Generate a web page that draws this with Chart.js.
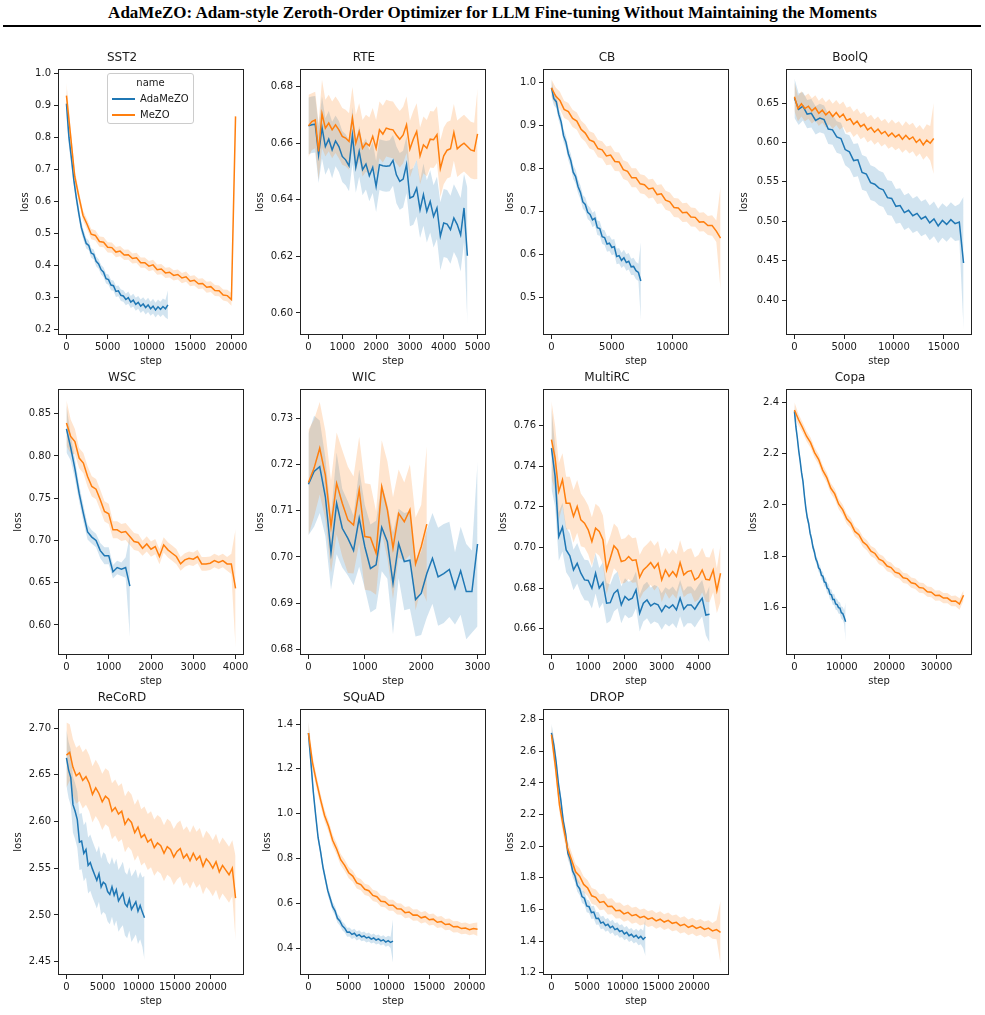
<!DOCTYPE html>
<html><head><meta charset="utf-8">
<script src="https://cdn.jsdelivr.net/npm/chart.js@4.4.0/dist/chart.umd.min.js"></script>
<style>
html,body{margin:0;padding:0;background:#fff;}
#page{position:relative;width:985px;height:1015px;overflow:hidden;background:#fff;}
#title{position:absolute;left:0;top:3px;width:985px;text-align:center;font:bold 17px "Liberation Serif","Times New Roman",serif;line-height:20px;color:#000;white-space:nowrap;}
#rule{position:absolute;left:3px;top:25px;width:978px;height:2px;background:#000;}
canvas{position:absolute;}
#legend{position:absolute;left:107px;top:73px;width:87px;height:51px;border:1px solid #cccccc;border-radius:3px;background:rgba(255,255,255,0.8);font:10px "DejaVu Sans",sans-serif;color:#1a1a1a;box-sizing:border-box;z-index:5;}
#legend .lt{position:absolute;left:0;width:100%;text-align:center;top:2px;line-height:14px;}
#legend .sw{position:absolute;left:4px;width:23px;height:1.5px;}
#legend .lb{position:absolute;left:32px;line-height:14px;}
</style></head>
<body><div id="page">
<div id="title">AdaMeZO: Adam-style Zeroth-Order Optimizer for LLM Fine-tuning Without Maintaining the Moments</div>
<div id="rule"></div>
</div>
<script>
// ---------- names ----------
const taskNames = ['SST2','RTE','CB','BoolQ','WSC','WIC','MultiRC','Copa','ReCoRD','SQuAD','DROP'];
const seriesNames = ['AdaMeZO','MeZO'];
const legendTitle = 'name';
const xAxisTitle = 'step';
const yAxisTitle = 'loss';

// ---------- SST2 ----------
const sst2AdaEvery = 300;
const sst2AdaLoss = [0.905,0.80,0.735,0.665,0.61,0.562,0.518,0.492,0.468,0.462,
 0.438,0.434,0.412,0.404,0.386,0.378,0.358,0.355,0.338,0.336,
 0.318,0.32,0.306,0.304,0.293,0.299,0.285,0.291,0.278,0.284,
 0.272,0.279,0.268,0.276,0.264,0.272,0.26,0.27,0.262,0.271,
 0.264,0.276];
const sst2AdaCI = [0.045,0.03,0.025,0.02,0.02,0.018,0.017,0.016,0.016,0.015,
 0.015,0.015,0.015,0.015,0.015,0.015,0.015,0.016,0.016,0.016,
 0.017,0.017,0.018,0.018,0.018,0.019,0.019,0.02,0.02,0.02,
 0.021,0.021,0.022,0.022,0.022,0.023,0.023,0.023,0.024,0.025,
 0.027,0.045];
const sst2MezoEvery = 500;
const sst2MezoLoss = [0.93,0.805,0.678,0.615,0.556,0.528,0.497,0.493,0.474,0.472,
 0.456,0.455,0.441,0.444,0.432,0.433,0.421,0.423,0.408,0.408,
 0.397,0.401,0.386,0.388,0.376,0.378,0.368,0.371,0.36,0.364,
 0.35,0.353,0.342,0.343,0.331,0.333,0.321,0.32,0.307,0.305,
 0.293,0.865];
const sst2MezoCI = [0.04,0.025,0.02,0.017,0.016,0.016,0.016,0.016,0.016,0.016,
 0.016,0.016,0.016,0.016,0.016,0.016,0.016,0.016,0.016,0.016,
 0.016,0.016,0.016,0.016,0.016,0.016,0.016,0.016,0.016,0.016,
 0.016,0.016,0.016,0.016,0.017,0.017,0.017,0.017,0.017,0.018,
 0.02,0];
const sst2XTicks = [0,5000,10000,15000,20000];
const sst2YTicks = ['0.2','0.3','0.4','0.5','0.6','0.7','0.8','0.9','1.0'];

// ---------- RTE ----------
const rteAdaEvery = 100;
const rteAdaLoss = [0.6661,0.6665,0.6667,0.6559,0.6656,0.6588,0.6614,0.6576,0.6608,0.6588,
 0.6553,0.6541,0.652,0.6627,0.6515,0.6571,0.6506,0.6526,0.6485,0.6514,
 0.6447,0.6524,0.652,0.6518,0.652,0.6539,0.6488,0.6465,0.6473,0.6524,
 0.6406,0.6412,0.6441,0.6365,0.6418,0.6359,0.6394,0.6341,0.6371,0.6271,
 0.6318,0.6314,0.6294,0.6335,0.6312,0.6276,0.6371,0.6202];
const rteAdaCI = [0.01,0.01,0.01,0.01,0.011,0.01,0.01,0.01,0.009,0.009,
 0.009,0.009,0.009,0.01,0.009,0.009,0.009,0.009,0.009,0.009,
 0.009,0.009,0.009,0.009,0.009,0.009,0.01,0.01,0.01,0.01,
 0.01,0.01,0.01,0.01,0.011,0.011,0.011,0.011,0.011,0.012,
 0.012,0.012,0.012,0.012,0.012,0.013,0.012,0.024];
const rteMezoEvery = 100;
const rteMezoLoss = [0.6661,0.6676,0.6682,0.6571,0.6704,0.6653,0.6671,0.6647,0.6665,0.6647,
 0.6624,0.6618,0.6606,0.6688,0.66,0.6641,0.6582,0.66,0.6591,0.6624,
 0.6582,0.6647,0.6632,0.6653,0.6649,0.6647,0.6629,0.6614,0.6629,0.6665,
 0.6579,0.6614,0.6641,0.6555,0.6594,0.6582,0.6614,0.6612,0.663,0.651,
 0.6555,0.6575,0.658,0.6638,0.658,0.6591,0.66,0.6588,0.6576,0.6572,
 0.6633];
const rteMezoCI = [0.011,0.01,0.01,0.01,0.012,0.01,0.01,0.01,0.01,0.01,
 0.01,0.01,0.01,0.011,0.01,0.01,0.01,0.01,0.01,0.01,
 0.01,0.01,0.01,0.01,0.01,0.01,0.01,0.01,0.01,0.01,
 0.01,0.01,0.01,0.01,0.01,0.01,0.01,0.01,0.01,0.01,
 0.01,0.01,0.01,0.01,0.01,0.01,0.01,0.01,0.01,0.01,
 0.016];
const rteXTicks = [0,1000,2000,3000,4000,5000];
const rteYTicks = ['0.60','0.62','0.64','0.66','0.68'];

// ---------- CB ----------
const cbAdaEvery = 200;
const cbAdaLoss = [0.987,0.962,0.955,0.926,0.908,0.876,0.861,0.834,0.818,0.791,
 0.781,0.758,0.744,0.722,0.716,0.698,0.693,0.68,0.684,0.662,
 0.66,0.641,0.639,0.624,0.626,0.616,0.618,0.595,0.597,0.586,
 0.592,0.581,0.584,0.571,0.572,0.562,0.558,0.538];
const cbAdaCI = [0.02,0.015,0.015,0.015,0.015,0.015,0.015,0.015,0.016,0.016,
 0.016,0.016,0.016,0.016,0.016,0.016,0.016,0.017,0.017,0.017,
 0.017,0.017,0.017,0.018,0.018,0.018,0.018,0.018,0.018,0.018,
 0.019,0.019,0.019,0.019,0.02,0.02,0.02,0.09];
const cbMezoEvery = 350;
const cbMezoLoss = [0.987,0.968,0.958,0.937,0.932,0.916,0.91,0.891,0.882,0.866,
 0.862,0.846,0.843,0.829,0.831,0.816,0.815,0.797,0.793,0.778,
 0.778,0.764,0.762,0.752,0.754,0.739,0.741,0.726,0.722,0.709,
 0.708,0.697,0.698,0.687,0.686,0.675,0.676,0.667,0.667,0.654,
 0.638];
const cbMezoCI = [0.02,0.02,0.02,0.02,0.02,0.02,0.02,0.02,0.02,0.02,
 0.02,0.02,0.02,0.022,0.022,0.022,0.022,0.022,0.022,0.022,
 0.022,0.022,0.022,0.022,0.022,0.022,0.022,0.022,0.022,0.022,
 0.022,0.022,0.022,0.022,0.022,0.022,0.022,0.022,0.024,0.025,
 0.12];
const cbXTicks = [0,5000,10000];
const cbYTicks = ['0.5','0.6','0.7','0.8','0.9','1.0'];

// ---------- BoolQ ----------
const boolqAdaEvery = 425;
const boolqAdaLoss = [0.656,0.642,0.646,0.636,0.637,0.628,0.631,0.629,0.617,0.616,
 0.607,0.605,0.591,0.588,0.577,0.578,0.562,0.56,0.549,0.547,
 0.542,0.54,0.53,0.529,0.519,0.52,0.511,0.514,0.507,0.51,
 0.503,0.506,0.498,0.503,0.494,0.501,0.496,0.502,0.497,0.499,
 0.447];
const boolqAdaCI = [0.025,0.02,0.018,0.018,0.018,0.018,0.018,0.018,0.019,0.019,
 0.02,0.02,0.02,0.021,0.021,0.021,0.022,0.022,0.022,0.022,
 0.022,0.022,0.022,0.022,0.022,0.022,0.022,0.022,0.022,0.022,
 0.022,0.022,0.022,0.022,0.022,0.022,0.022,0.022,0.022,0.023,
 0.084];
const boolqMezoEvery = 350;
const boolqMezoLoss = [0.658,0.643,0.649,0.643,0.646,0.64,0.644,0.637,0.641,0.635,
 0.639,0.633,0.638,0.632,0.636,0.628,0.63,0.623,0.627,0.62,
 0.623,0.616,0.619,0.613,0.617,0.611,0.614,0.608,0.612,0.607,
 0.61,0.604,0.609,0.604,0.607,0.6,0.604,0.597,0.603,0.599,
 0.605];
const boolqMezoCI = [0.018,0.016,0.016,0.016,0.016,0.016,0.016,0.016,0.016,0.016,
 0.016,0.016,0.016,0.016,0.016,0.016,0.016,0.016,0.016,0.016,
 0.016,0.016,0.016,0.016,0.016,0.016,0.016,0.016,0.017,0.017,
 0.017,0.017,0.018,0.018,0.018,0.018,0.018,0.019,0.02,0.022,
 0.045];
const boolqXTicks = [0,5000,10000,15000];
const boolqYTicks = ['0.40','0.45','0.50','0.55','0.60','0.65'];

// ---------- WSC ----------
const wscAdaEvery = 100;
const wscAdaLoss = [0.832,0.81,0.785,0.756,0.732,0.71,0.704,0.70,0.688,0.682,
 0.682,0.663,0.668,0.666,0.668,0.646];
const wscAdaCI = [0.028,0.015,0.012,0.01,0.01,0.009,0.008,0.008,0.009,0.01,
 0.01,0.008,0.008,0.008,0.012,0.06];
const wscMezoEvery = 100;
const wscMezoLoss = [0.839,0.823,0.817,0.7975,0.7915,0.7757,0.7639,0.7607,0.7481,0.7343,
 0.7315,0.7126,0.7126,0.7094,0.7106,0.7047,0.6987,0.6976,0.6908,0.6959,
 0.6897,0.6928,0.681,0.6948,0.6889,0.6849,0.681,0.6723,0.677,0.679,
 0.6778,0.681,0.6723,0.6723,0.6731,0.6762,0.6739,0.6762,0.6723,0.6723,
 0.6434];
const wscMezoCI = [0.027,0.02,0.015,0.012,0.012,0.012,0.012,0.012,0.012,0.012,
 0.012,0.01,0.01,0.01,0.01,0.01,0.01,0.01,0.009,0.009,
 0.009,0.009,0.009,0.009,0.009,0.009,0.009,0.008,0.008,0.008,
 0.008,0.008,0.008,0.008,0.008,0.008,0.008,0.008,0.008,0.012,
 0.07];
const wscXTicks = [0,1000,2000,3000,4000];
const wscYTicks = ['0.60','0.65','0.70','0.75','0.80','0.85'];

// ---------- WIC ----------
const wicAdaEvery = 100;
const wicAdaLoss = [0.7157,0.7185,0.7195,0.713,0.7009,0.7116,0.7062,0.704,0.7014,0.7084,
 0.7022,0.6975,0.6983,0.7064,0.7033,0.6943,0.7029,0.699,0.6993,0.6908,
 0.6921,0.6964,0.6997,0.6957,0.6964,0.6973,0.6932,0.697,0.6925,0.6925,
 0.7028];
const wicAdaCI = [0.011,0.012,0.01,0.0085,0.008,0.011,0.0085,0.008,0.0075,0.0105,
 0.009,0.0095,0.0095,0.0095,0.008,0.011,0.0075,0.0105,0.0105,0.008,
 0.009,0.0095,0.0098,0.0106,0.0107,0.0103,0.0078,0.0095,0.0103,0.0089,
 0.0178];
const wicMezoEvery = 100;
const wicMezoLoss = [0.7161,0.7192,0.7235,0.7177,0.7066,0.7159,0.7116,0.708,0.7069,0.7145,
 0.7044,0.7042,0.7008,0.7152,0.7102,0.7019,0.7094,0.7076,0.7102,0.6985,
 0.7022,0.7071];
const wicMezoCI = [0.0114,0.0105,0.01,0.0095,0.01,0.011,0.0115,0.0115,0.0105,0.0115,
 0.0115,0.0115,0.009,0.01,0.0105,0.011,0.0095,0.0085,0.0098,0.01,
 0.009,0.0168];
const wicXTicks = [0,1000,2000,3000];
const wicYTicks = ['0.68','0.69','0.70','0.71','0.72','0.73'];

// ---------- MultiRC ----------
const multircAdaEvery = 100;
const multircAdaLoss = [0.749,0.735,0.7054,0.71,0.6988,0.6959,0.6889,0.6922,0.6873,0.684,
 0.6837,0.6799,0.6873,0.6799,0.6827,0.6725,0.6728,0.6774,0.6791,0.6717,
 0.6758,0.6741,0.675,0.6791,0.6676,0.6725,0.6741,0.6712,0.6725,0.6717,
 0.6684,0.6714,0.6701,0.6717,0.6692,0.675,0.6696,0.6717,0.6717,0.6696,
 0.6725,0.675,0.6667,0.6671];
const multircAdaCI = [0.02,0.015,0.012,0.012,0.011,0.011,0.01,0.01,0.01,0.01,
 0.01,0.01,0.01,0.01,0.01,0.01,0.009,0.009,0.009,0.009,
 0.009,0.009,0.009,0.009,0.009,0.009,0.009,0.009,0.009,0.009,
 0.009,0.009,0.009,0.009,0.009,0.009,0.009,0.009,0.009,0.009,
 0.009,0.009,0.01,0.014];
const multircMezoEvery = 100;
const multircMezoLoss = [0.7531,0.744,0.7276,0.7334,0.7218,0.7218,0.7153,0.7202,0.7136,0.712,
 0.7087,0.7029,0.7095,0.7079,0.7038,0.6889,0.6947,0.7008,0.6988,0.6931,
 0.6936,0.6955,0.6936,0.6939,0.6853,0.6889,0.6906,0.6926,0.6898,0.6922,
 0.684,0.6889,0.6857,0.6881,0.6857,0.6926,0.6865,0.6881,0.6886,0.684,
 0.6853,0.6889,0.6843,0.684,0.6889,0.6787,0.6873];
const multircMezoCI = [0.019,0.016,0.014,0.013,0.013,0.013,0.013,0.013,0.013,0.012,
 0.012,0.012,0.012,0.012,0.012,0.012,0.011,0.011,0.011,0.011,
 0.011,0.011,0.011,0.011,0.011,0.011,0.011,0.011,0.011,0.011,
 0.011,0.011,0.011,0.011,0.011,0.011,0.011,0.011,0.011,0.011,
 0.011,0.011,0.011,0.011,0.011,0.011,0.014];
const multircXTicks = [0,1000,2000,3000,4000];
const multircYTicks = ['0.66','0.68','0.70','0.72','0.74','0.76'];

// ---------- Copa ----------
const copaAdaEvery = 300;
const copaAdaLoss = [2.365,2.305,2.262,2.212,2.172,2.126,2.092,2.036,1.988,1.951,
 1.928,1.89,1.868,1.836,1.818,1.79,1.778,1.755,1.748,1.726,
 1.722,1.70,1.698,1.676,1.672,1.652,1.65,1.632,1.632,1.614,
 1.612,1.60,1.598,1.58,1.577,1.562,1.545];
const copaAdaCI = [0.03,0.02,0.015,0.015,0.015,0.015,0.015,0.015,0.015,0.015,
 0.015,0.015,0.015,0.015,0.015,0.015,0.016,0.016,0.017,0.017,
 0.018,0.018,0.019,0.02,0.02,0.02,0.021,0.021,0.022,0.022,
 0.022,0.023,0.023,0.024,0.025,0.027,0.075];
const copaMezoEvery = 850;
const copaMezoLoss = [2.37,2.333,2.302,2.268,2.243,2.204,2.178,2.136,2.108,2.066,
 2.043,2.003,1.981,1.946,1.929,1.897,1.884,1.856,1.843,1.82,
 1.811,1.789,1.781,1.762,1.756,1.738,1.733,1.716,1.713,1.697,
 1.693,1.678,1.676,1.662,1.66,1.647,1.648,1.637,1.637,1.625,
 1.626,1.614,1.648];
const copaMezoCI = [0.03,0.022,0.02,0.02,0.02,0.02,0.02,0.02,0.02,0.02,
 0.02,0.02,0.02,0.02,0.02,0.02,0.02,0.02,0.02,0.02,
 0.02,0.02,0.02,0.02,0.02,0.02,0.02,0.02,0.02,0.02,
 0.02,0.02,0.02,0.02,0.02,0.02,0.02,0.02,0.02,0.02,
 0.021,0.022,0.02];
const copaXTicks = [0,10000,20000,30000];
const copaYTicks = ['1.6','1.8','2.0','2.2','2.4'];

// ---------- ReCoRD ----------
const recordAdaEvery = 300;
const recordAdaLoss = [2.668,2.655,2.647,2.618,2.611,2.602,2.578,2.579,2.566,2.57,
 2.553,2.556,2.549,2.543,2.537,2.544,2.53,2.535,2.533,2.525,
 2.522,2.53,2.521,2.527,2.515,2.519,2.523,2.512,2.509,2.517,
 2.506,2.51,2.514,2.504,2.51,2.503,2.497];
const recordAdaCI = [0.03,0.03,0.03,0.03,0.03,0.03,0.03,0.03,0.03,0.03,
 0.03,0.03,0.03,0.03,0.03,0.03,0.03,0.032,0.032,0.032,
 0.032,0.032,0.033,0.033,0.033,0.033,0.034,0.034,0.034,0.034,
 0.035,0.035,0.035,0.035,0.036,0.037,0.045];
const recordMezoEvery = 450;
const recordMezoLoss = [2.671,2.674,2.658,2.649,2.652,2.644,2.648,2.641,2.629,2.636,
 2.63,2.621,2.627,2.624,2.611,2.615,2.608,2.611,2.597,2.603,
 2.599,2.588,2.594,2.583,2.586,2.578,2.581,2.572,2.577,2.574,
 2.566,2.573,2.57,2.562,2.568,2.571,2.561,2.565,2.558,2.566,
 2.559,2.563,2.552,2.56,2.556,2.55,2.557,2.546,2.553,2.548,
 2.543,2.55,2.518];
const recordMezoCI = [0.035,0.03,0.03,0.03,0.03,0.03,0.03,0.03,0.03,0.03,
 0.03,0.03,0.03,0.03,0.03,0.03,0.03,0.03,0.03,0.03,
 0.03,0.03,0.03,0.03,0.03,0.03,0.03,0.03,0.03,0.03,
 0.03,0.03,0.03,0.03,0.03,0.03,0.03,0.03,0.03,0.03,
 0.03,0.03,0.03,0.03,0.03,0.03,0.03,0.03,0.03,0.03,
 0.03,0.03,0.045];
const recordXTicks = [0,5000,10000,15000,20000];
const recordYTicks = ['2.45','2.50','2.55','2.60','2.65','2.70'];

// ---------- SQuAD ----------
const squadAdaEvery = 300;
const squadAdaLoss = [1.36,1.232,1.098,0.992,0.893,0.832,0.762,0.71,0.657,0.622,
 0.586,0.567,0.534,0.522,0.50,0.49,0.472,0.473,0.462,0.467,
 0.455,0.461,0.451,0.455,0.446,0.45,0.441,0.446,0.437,0.442,
 0.433,0.438,0.428,0.434,0.426,0.432];
const squadAdaCI = [0.05,0.03,0.025,0.022,0.02,0.02,0.02,0.02,0.02,0.02,
 0.02,0.02,0.02,0.02,0.02,0.02,0.02,0.02,0.02,0.02,
 0.02,0.02,0.02,0.02,0.02,0.02,0.02,0.02,0.02,0.02,
 0.02,0.02,0.021,0.022,0.025,0.095];
const squadMezoEvery = 500;
const squadMezoLoss = [1.36,1.228,1.142,1.063,0.992,0.944,0.882,0.843,0.795,0.77,
 0.737,0.722,0.692,0.684,0.663,0.657,0.636,0.63,0.61,0.608,
 0.592,0.592,0.576,0.575,0.559,0.562,0.548,0.549,0.536,0.541,
 0.527,0.53,0.516,0.519,0.506,0.508,0.496,0.497,0.488,0.49,
 0.483,0.488,0.485];
const squadMezoCI = [0.05,0.03,0.028,0.027,0.026,0.025,0.025,0.025,0.025,0.025,
 0.025,0.025,0.025,0.025,0.025,0.025,0.025,0.025,0.025,0.025,
 0.025,0.025,0.025,0.025,0.025,0.025,0.025,0.025,0.025,0.025,
 0.025,0.025,0.025,0.025,0.025,0.025,0.025,0.025,0.025,0.025,
 0.025,0.025,0.03];
const squadXTicks = [0,5000,10000,15000,20000];
const squadYTicks = ['0.4','0.6','0.8','1.0','1.2','1.4'];

// ---------- DROP ----------
const dropAdaEvery = 330;
const dropAdaLoss = [2.716,2.64,2.53,2.39,2.29,2.16,2.08,1.955,1.915,1.843,
 1.812,1.752,1.731,1.681,1.671,1.622,1.617,1.58,1.583,1.543,
 1.544,1.514,1.52,1.498,1.506,1.484,1.494,1.472,1.479,1.46,
 1.466,1.445,1.455,1.434,1.443,1.425,1.436,1.418,1.43,1.41,
 1.425];
const dropAdaCI = [0.06,0.05,0.045,0.04,0.04,0.04,0.04,0.04,0.04,0.04,
 0.04,0.04,0.04,0.04,0.04,0.04,0.04,0.04,0.04,0.04,
 0.04,0.04,0.04,0.04,0.04,0.04,0.04,0.04,0.04,0.04,
 0.04,0.04,0.04,0.04,0.04,0.04,0.042,0.045,0.05,0.055,
 0.12];
const dropMezoEvery = 565;
const dropMezoLoss = [2.705,2.50,2.26,2.115,1.985,1.912,1.838,1.81,1.758,1.735,
 1.686,1.676,1.644,1.65,1.618,1.62,1.592,1.594,1.572,1.581,
 1.56,1.567,1.548,1.556,1.538,1.547,1.527,1.538,1.52,1.531,
 1.512,1.518,1.497,1.506,1.486,1.497,1.48,1.49,1.473,1.482,
 1.464,1.472,1.455];
const dropMezoCI = [0.06,0.05,0.05,0.05,0.05,0.05,0.05,0.05,0.05,0.05,
 0.05,0.05,0.05,0.05,0.05,0.05,0.05,0.05,0.05,0.05,
 0.05,0.05,0.05,0.05,0.05,0.05,0.05,0.05,0.05,0.05,
 0.05,0.05,0.05,0.05,0.05,0.05,0.05,0.05,0.05,0.05,
 0.05,0.06,0.2];
const dropXTicks = [0,5000,10000,15000,20000];
const dropYTicks = ['1.2','1.4','1.6','1.8','2.0','2.2','2.4','2.6','2.8'];

// ---------- layout & style ----------
const COLORS = ['#1f77b4', '#ff7f0e'];
const BANDS = ['rgba(31,119,180,0.2)', 'rgba(255,127,14,0.2)'];
const TEXT = '#1a1a1a';
const TICK = '#222';
const COL_LEFT = [58, 300, 543, 786];
const ROW_TOP = [69, 389, 709];
const PLOT_W = 186, PLOT_H = 266;
const AXIS_W = 58, TITLE_H = 29, XAXIS_H = 36, PAD_R = 22;
const CANVAS_W = AXIS_W + PLOT_W + PAD_R, CANVAS_H = TITLE_H + PLOT_H + XAXIS_H;
Chart.defaults.font.family = "'DejaVu Sans', sans-serif";
Chart.defaults.color = TEXT;

const panels = [
 {ada:[sst2AdaEvery,sst2AdaLoss,sst2AdaCI], mezo:[sst2MezoEvery,sst2MezoLoss,sst2MezoCI], xr:[-1025,21525], yr:[0.182,1.013], xt:sst2XTicks, yt:sst2YTicks, yd:33},
 {ada:[rteAdaEvery,rteAdaLoss,rteAdaCI], mezo:[rteMezoEvery,rteMezoLoss,rteMezoCI], xr:[-250,5250], yr:[0.5922,0.6862], xt:rteXTicks, yt:rteYTicks, yd:40},
 {ada:[cbAdaEvery,cbAdaLoss,cbAdaCI], mezo:[cbMezoEvery,cbMezoLoss,cbMezoCI], xr:[-700,14700], yr:[0.4125,1.031], xt:cbXTicks, yt:cbYTicks, yd:33},
 {ada:[boolqAdaEvery,boolqAdaLoss,boolqAdaCI], mezo:[boolqMezoEvery,boolqMezoLoss,boolqMezoCI], xr:[-850,17850], yr:[0.3557,0.6932], xt:boolqXTicks, yt:boolqYTicks, yd:42},
 {ada:[wscAdaEvery,wscAdaLoss,wscAdaCI], mezo:[wscMezoEvery,wscMezoLoss,wscMezoCI], xr:[-200,4200], yr:[0.5645,0.8792], xt:wscXTicks, yt:wscYTicks, yd:40},
 {ada:[wicAdaEvery,wicAdaLoss,wicAdaCI], mezo:[wicMezoEvery,wicMezoLoss,wicMezoCI], xr:[-150,3150], yr:[0.6788,0.7363], xt:wicXTicks, yt:wicYTicks, yd:40},
 {ada:[multircAdaEvery,multircAdaLoss,multircAdaCI], mezo:[multircMezoEvery,multircMezoLoss,multircMezoCI], xr:[-230,4830], yr:[0.647,0.7781], xt:multircXTicks, yt:multircYTicks, yd:40},
 {ada:[copaAdaEvery,copaAdaLoss,copaAdaCI], mezo:[copaMezoEvery,copaMezoLoss,copaMezoCI], xr:[-1785,37485], yr:[1.4153,2.452], xt:copaXTicks, yt:copaYTicks, yd:33},
 {ada:[recordAdaEvery,recordAdaLoss,recordAdaCI], mezo:[recordMezoEvery,recordMezoLoss,recordMezoCI], xr:[-1170,24570], yr:[2.4357,2.7204], xt:recordXTicks, yt:recordYTicks, yd:40},
 {ada:[squadAdaEvery,squadAdaLoss,squadAdaCI], mezo:[squadMezoEvery,squadMezoLoss,squadMezoCI], xr:[-1050,22050], yr:[0.281,1.467], xt:squadXTicks, yt:squadYTicks, yd:33},
 {ada:[dropAdaEvery,dropAdaLoss,dropAdaCI], mezo:[dropMezoEvery,dropMezoLoss,dropMezoCI], xr:[-1186,24916], yr:[1.1852,2.8675], xt:dropXTicks, yt:dropYTicks, yd:33}
];

const framePlugin = {
  id: 'frame',
  afterDraw(chart) {
    const a = chart.chartArea, ctx = chart.ctx;
    ctx.save();
    ctx.strokeStyle = '#222';
    ctx.lineWidth = 1;
    const l = Math.round(a.left) + 0.5, t = Math.round(a.top) + 0.5;
    const r = Math.round(a.right) - 0.5, b = Math.round(a.bottom) - 0.5;
    ctx.strokeRect(l, t, r - l, b - t);
    ctx.restore();
  }
};

function seriesSets(spec, k) {
  const [every, loss, ci] = spec;
  const lo = loss.map((v, i) => ({x: i * every, y: v - ci[i]}));
  const hi = loss.map((v, i) => ({x: i * every, y: v + ci[i]}));
  const mid = loss.map((v, i) => ({x: i * every, y: v}));
  const none = 'rgba(0,0,0,0)';
  return [
    {label: seriesNames[k] + ' lo', data: lo, borderColor: none, borderWidth: 0, pointRadius: 0, fill: false},
    {label: seriesNames[k] + ' hi', data: hi, borderColor: none, borderWidth: 0, pointRadius: 0, fill: '-1', backgroundColor: BANDS[k]},
    {label: seriesNames[k], data: mid, borderColor: COLORS[k], borderWidth: 1.5, pointRadius: 0, fill: false}
  ];
}

const page = document.getElementById('page');
panels.forEach((p, idx) => {
  const col = idx % 4, row = Math.floor(idx / 4);
  const cv = document.createElement('canvas');
  cv.width = CANVAS_W; cv.height = CANVAS_H;
  cv.style.width = CANVAS_W + 'px'; cv.style.height = CANVAS_H + 'px';
  cv.style.left = (COL_LEFT[col] - AXIS_W) + 'px';
  cv.style.top = (ROW_TOP[row] - TITLE_H) + 'px';
  page.appendChild(cv);
  const a = seriesSets(p.ada, 0), m = seriesSets(p.mezo, 1);
  a[0].order = 6; a[1].order = 5; m[0].order = 4; m[1].order = 3; a[2].order = 2; m[2].order = 1;
  const tickFont = {size: 10};
  new Chart(cv, {
    type: 'line',
    data: {datasets: [a[0], a[1], m[0], m[1], a[2], m[2]]},
    options: {
      responsive: false, animation: false, devicePixelRatio: 1, events: [],
      layout: {padding: {left: 0, top: 0, right: PAD_R, bottom: 0}},
      elements: {line: {tension: 0}, point: {radius: 0}},
      plugins: {
        legend: {display: false}, tooltip: {enabled: false},
        title: {display: true, text: taskNames[idx], color: TEXT, font: {size: 12, weight: 'normal'}, padding: {top: 10.8, bottom: 3.8}}
      },
      scales: {
        x: {
          type: 'linear', min: p.xr[0], max: p.xr[1],
          afterBuildTicks: s => { s.ticks = p.xt.map(v => ({value: v})); },
          afterFit: s => { s.height = XAXIS_H; },
          ticks: {callback: v => String(v), maxRotation: 0, minRotation: 0, autoSkip: false, padding: 2, color: TEXT, font: tickFont},
          grid: {display: true, drawOnChartArea: false, drawTicks: true, tickLength: 4, color: TICK, lineWidth: 1},
          border: {display: false},
          title: {display: true, text: xAxisTitle, color: TEXT, font: {size: 10}, padding: {top: 0, bottom: 3.3}}
        },
        y: {
          type: 'linear', min: p.yr[0], max: p.yr[1],
          afterBuildTicks: s => { s.ticks = p.yt.map(t => ({value: parseFloat(t)})); },
          afterFit: s => { s.width = AXIS_W; },
          ticks: {callback: (v, i) => p.yt[i], padding: 3, color: TEXT, font: tickFont},
          grid: {display: true, drawOnChartArea: false, drawTicks: true, tickLength: 4, color: TICK, lineWidth: 1},
          border: {display: false},
          title: {display: true, text: yAxisTitle, color: TEXT, font: {size: 10}, padding: {top: 52 - p.yd, bottom: 0}}
        }
      }
    },
    plugins: [framePlugin]
  });
});

// legend (inside SST2 panel)
const lg = document.createElement('div');
lg.id = 'legend';
let html = '<div class="lt">' + legendTitle + '</div>';
seriesNames.forEach((n, k) => {
  const cy = 25 + k * 16;
  html += '<div class="sw" style="top:' + (cy - 0.75) + 'px;background:' + COLORS[k] + '"></div>';
  html += '<div class="lb" style="top:' + (cy - 7) + 'px">' + n + '</div>';
});
lg.innerHTML = html;
page.appendChild(lg);
</script>
</body></html>
